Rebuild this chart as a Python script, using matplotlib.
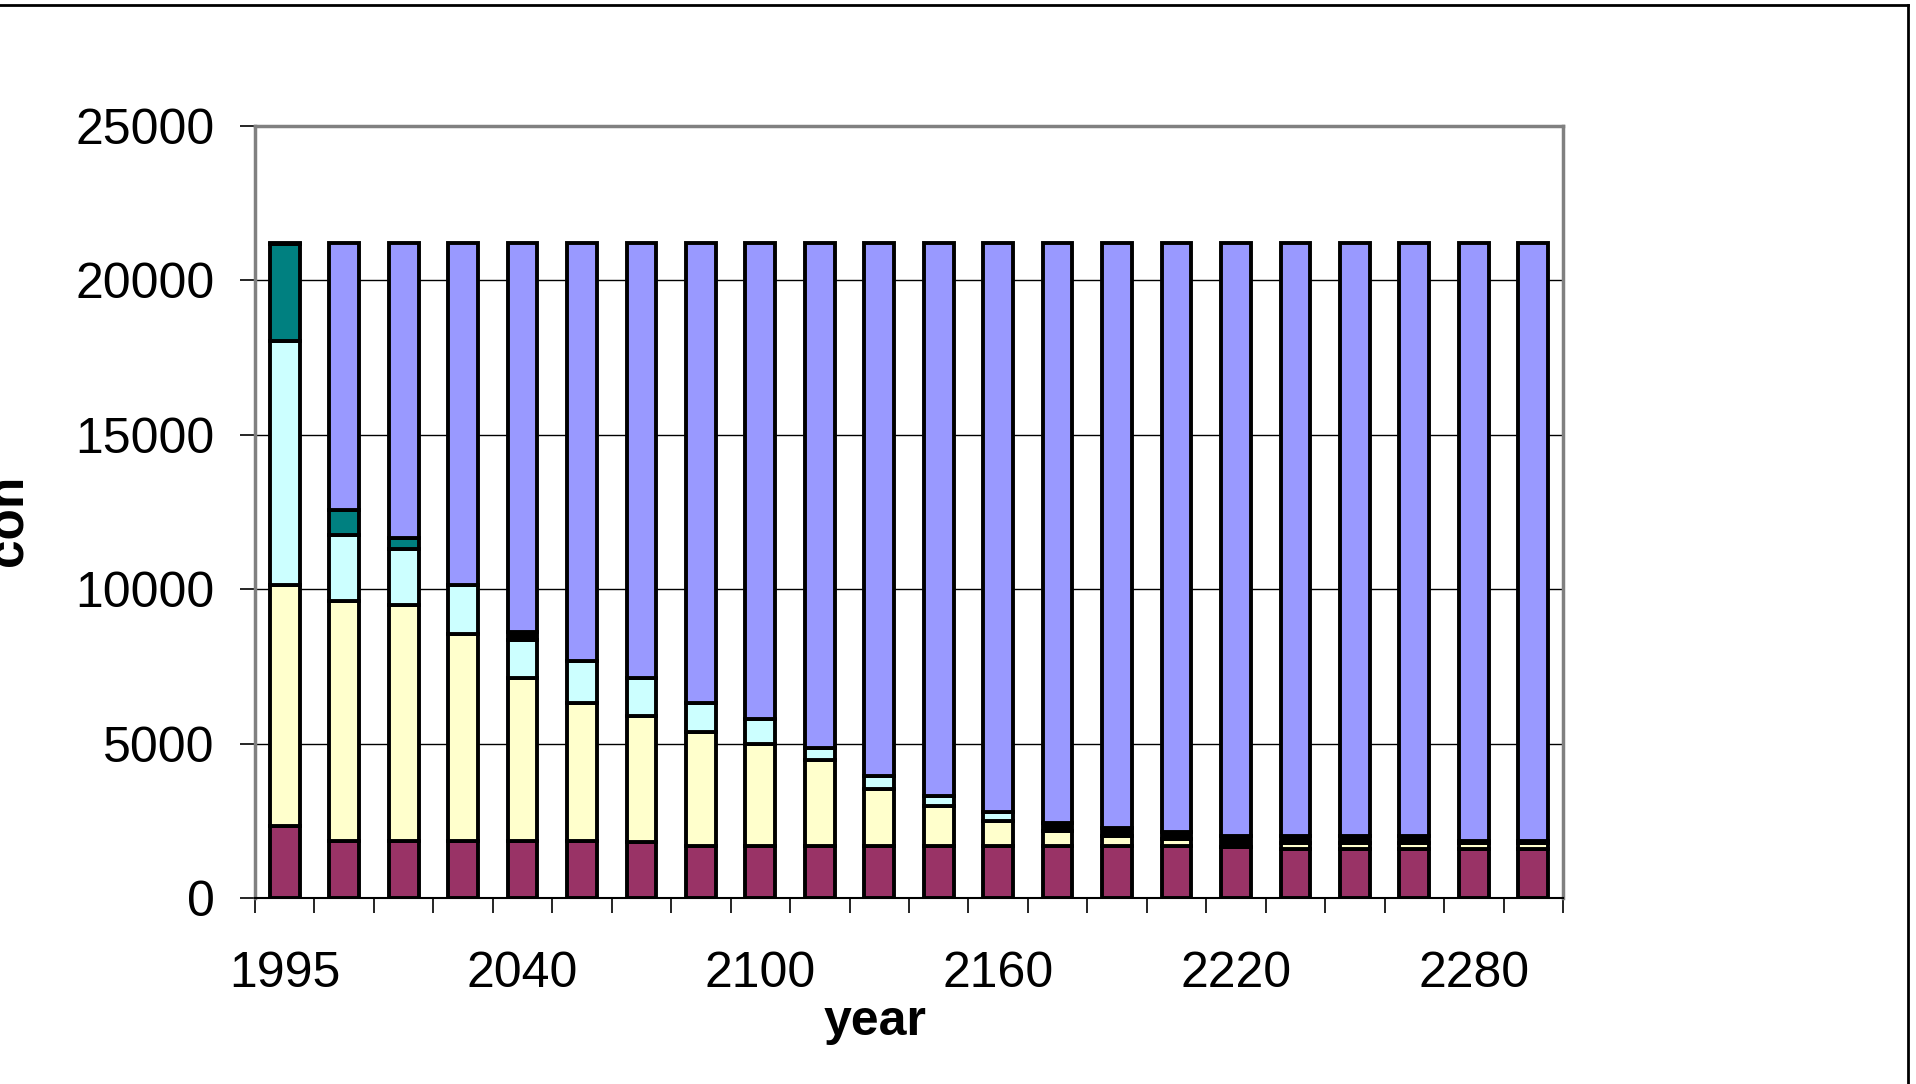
import numpy as np
import matplotlib.pyplot as plt
from matplotlib.lines import Line2D

plt.rcParams['font.family'] = ['Liberation Sans', 'DejaVu Sans']

# Data
years = [1995, 2000, 2010, 2025, 2040, 2055, 2070, 2085, 2100, 2115, 2130,
         2145, 2160, 2175, 2190, 2205, 2220, 2235, 2250, 2265, 2280, 2295]

maroon = [2340, 1830, 1830, 1830, 1830, 1830, 1800, 1690, 1690, 1690, 1690,
          1690, 1690, 1690, 1690, 1700, 1650, 1580, 1580, 1580, 1580, 1580]
yellow = [7780, 7780, 7670, 6710, 5280, 4490, 4100, 3700, 3310, 2770, 1840,
          1300, 790, 465, 330, 200, 0, 190, 190, 190, 190, 190]
cyan = [7910, 2160, 1790, 1610, 1260, 1350, 1230, 940, 790, 410, 420,
        300, 300, 0, 0, 0, 0, 0, 0, 0, 0, 0]
teal = [3160, 790, 370, 0, 0, 0, 0, 0, 0, 0, 0,
        0, 0, 0, 0, 0, 0, 0, 0, 0, 0, 0]
black = [0, 0, 0, 0, 230, 0, 0, 0, 0, 0, 0,
         0, 0, 270, 260, 250, 360, 240, 240, 240, 80, 80]
TOTAL = 21200
series = [maroon, yellow, cyan, teal, black]
colors = ['#993366', '#FFFFCC', '#CCFFFF', '#008080', '#000000', '#9999FF']

stack = np.array(series)
periwinkle = TOTAL - stack.sum(axis=0)
series.append(list(periwinkle))

fig = plt.figure(figsize=(19.16, 10.84), dpi=100)
ax = fig.add_axes([255/1916, 1 - 898/1084, (1563-255)/1916, (898-126)/1084])

x = np.arange(len(years))
bottom = np.zeros(len(years))
for vals, c in zip(series, colors):
    ax.bar(x, vals, bottom=bottom, width=0.5, color=c, edgecolor='black',
           linewidth=2.8, zorder=3)
    bottom += np.array(vals)

ax.set_xlim(-0.5, len(years) - 0.5)
ax.set_ylim(0, 25000)
ax.set_yticks(np.arange(0, 25001, 5000))
ax.yaxis.grid(True, color='black', linewidth=1.0, zorder=0)
ax.set_axisbelow(True)

# category labels every 4th bar, tick marks between bars
ax.set_xticks(x[::4])
ax.set_xticklabels([str(years[i]) for i in x[::4]])
ax.set_xticks(np.arange(-0.5, len(years), 1.0), minor=True)
ax.tick_params(axis='x', which='major', length=0, pad=38, labelsize=36)
ax.tick_params(axis='x', which='minor', length=11, width=1.2, color='black')
ax.tick_params(axis='y', length=11, width=1.2, pad=18, labelsize=36)

for s in ['top', 'right', 'left']:
    ax.spines[s].set_color('#808080')
    ax.spines[s].set_linewidth(2.5)
ax.spines['bottom'].set_color('black')
ax.spines['bottom'].set_linewidth(1.5)

fig.text(875/1916, 1 - 1022/1084, 'year', fontsize=36, fontweight='bold',
         ha='center', va='center')
fig.text(0.017, 1 - 520/1084, 'coh', fontsize=37, fontweight='bold',
         rotation=90, ha='right', va='center')

# outer chart border (only top and right visible)
fig.add_artist(Line2D([0, 1908/1916], [1 - 5/1084, 1 - 5/1084],
                      transform=fig.transFigure, color='black', linewidth=2))
fig.add_artist(Line2D([1908/1916, 1908/1916], [0, 1 - 5/1084],
                      transform=fig.transFigure, color='black', linewidth=2))

fig.savefig('out.png', dpi=100)
